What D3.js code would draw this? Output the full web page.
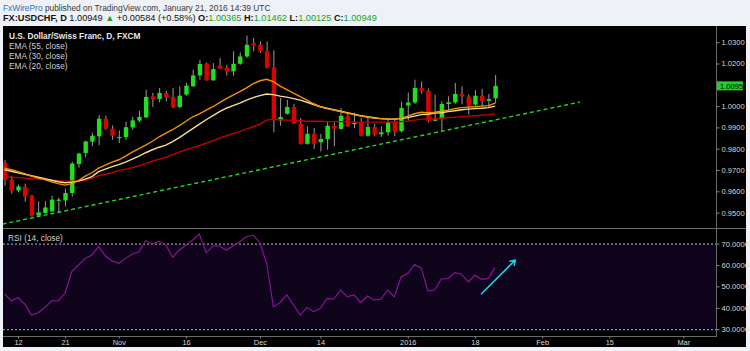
<!DOCTYPE html>
<html><head><meta charset="utf-8">
<script src="https://cdn.jsdelivr.net/npm/d3@7"></script>
<style>
body{margin:0;background:#eef1f5;}
svg{display:block;}
</style></head><body>
<script>
// bar index 0 = Oct 8 2015, last bar (73) = Jan 21 2016
const tickIdx = [2, 9, 17, 27, 38, 47, 60, 70, 80, 90, 101];
const tickLabels = ["12","21","Nov","16","Dec","14","2016","18","Feb","15","Mar"];

const opens = [0.9734,0.9654,0.9604,0.9621,0.9579,0.9486,0.9498,0.9506,0.9559,0.9557,
  0.9592,0.9728,0.9780,0.9833,0.9858,0.9941,0.9894,0.9852,0.9854,0.9900,
  0.9932,0.9947,1.0046,1.0033,1.0062,1.0043,0.9996,1.0054,1.0093,1.0144,
  1.0199,1.0121,1.0191,1.0179,1.0163,1.0199,1.0233,1.0296,1.0288,1.0259,
  1.0182,0.9933,0.9964,0.9996,0.9917,0.9823,0.9870,0.9830,0.9845,0.9908,
  0.9893,0.9955,0.9915,0.9925,0.9861,0.9902,0.9868,0.9877,0.9928,0.9882,
  1.0003,1.0017,1.0085,1.0072,0.9931,0.9940,1.0010,1.0017,1.0057,1.0044,
  1.0007,1.0049,1.0025,1.00365];
const highs = [0.9748,0.9673,0.9631,0.9636,0.9584,0.9553,0.9553,0.9579,0.9570,0.9612,
  0.9739,0.9781,0.9838,0.9875,0.9958,0.9955,0.9909,0.9886,0.9927,0.9950,
  0.9978,1.0077,1.0062,1.0085,1.0072,1.0085,1.0093,1.0109,1.0171,1.0218,
  1.0204,1.0202,1.0226,1.0194,1.0257,1.0252,1.0331,1.0320,1.0304,1.0304,
  1.0262,1.0038,1.0030,1.0011,0.9944,0.9905,0.9897,0.9870,0.9924,0.9924,
  0.9991,0.9969,0.9969,0.9944,0.9950,0.9917,0.9905,0.9944,0.9941,1.0021,
  1.0063,1.0124,1.0116,1.0083,1.0054,1.0023,1.0046,1.0109,1.0093,1.0054,
  1.0075,1.0081,1.0057,1.01462];
const lows = [0.9626,0.9589,0.9595,0.9551,0.9481,0.9480,0.9495,0.9503,0.9500,0.9529,
  0.9575,0.9711,0.9758,0.9811,0.9817,0.9889,0.9842,0.9827,0.9842,0.9889,
  0.9924,0.9944,0.9996,1.0017,1.0022,0.9991,0.9991,1.0049,1.0090,1.0124,
  1.0119,1.0119,1.0174,1.0143,1.0143,1.0194,1.0226,1.0257,1.0249,1.0177,
  0.9877,0.9908,0.9960,0.9916,0.9819,0.9819,0.9799,0.9787,0.9795,0.9811,
  0.9889,0.9902,0.9896,0.9858,0.9856,0.9858,0.9856,0.9861,0.9858,0.9877,
  0.9932,1.0010,1.0058,0.9923,0.9928,0.9881,0.9978,1.0011,1.0009,0.9960,
  1.0002,1.0000,0.9995,1.00125];
const closes = [0.9654,0.9603,0.9623,0.9575,0.9486,0.9501,0.9524,0.9561,0.9561,0.9592,
  0.9730,0.9777,0.9834,0.9861,0.9941,0.9894,0.9861,0.9855,0.9901,0.9933,
  0.9949,1.0043,1.0033,1.0062,1.0041,0.9996,1.0049,1.0096,1.0144,1.0198,
  1.0121,1.0174,1.0176,1.0163,1.0199,1.0233,1.0288,1.0285,1.0257,1.0179,
  0.9933,0.9949,0.9996,0.9917,0.9823,0.9870,0.9823,0.9846,0.9908,0.9894,
  0.9955,0.9905,0.9922,0.9861,0.9902,0.9866,0.9877,0.9924,0.9881,0.9991,
  1.0017,1.0085,1.0069,0.9930,0.9937,1.0010,1.0018,1.0057,1.0046,1.0003,
  1.0049,1.0024,1.0033,1.00949];

const ema20 = [0.9709,0.9701,0.9692,0.9683,0.9671,0.9662,0.9655,0.9645,0.9636,0.9629,
  0.9636,0.9650,0.9671,0.9687,0.9709,0.9723,0.9737,0.9748,0.9765,0.9784,
  0.9800,0.9817,0.9835,0.9856,0.9873,0.9889,0.9908,0.9929,0.9950,0.9964,
  0.9981,0.9997,1.0016,1.0035,1.0051,1.0068,1.0086,1.0105,1.0119,1.0126,
  1.0115,1.0094,1.0077,1.0061,1.0044,1.0028,1.0011,0.9997,0.9988,0.9981,
  0.9974,0.9967,0.9960,0.9953,0.9948,0.9943,0.9941,0.9939,0.9939,0.9943,
  0.9953,0.9964,0.9971,0.9969,0.9971,0.9976,0.9981,0.9988,0.9993,0.9995,
  0.9997,1.0000,1.0002,1.0014];
const ema30 = [0.9701,0.9694,0.9687,0.9680,0.9673,0.9666,0.9659,0.9652,0.9645,0.9640,
  0.9643,0.9648,0.9657,0.9669,0.9692,0.9704,0.9716,0.9725,0.9737,0.9751,
  0.9765,0.9781,0.9795,0.9807,0.9817,0.9833,0.9852,0.9873,0.9894,0.9915,
  0.9936,0.9955,0.9974,0.9990,1.0002,1.0014,1.0028,1.0040,1.0049,1.0057,
  1.0054,1.0047,1.0042,1.0035,1.0028,1.0018,1.0007,0.9997,0.9990,0.9983,
  0.9976,0.9969,0.9962,0.9955,0.9950,0.9946,0.9941,0.9939,0.9939,0.9941,
  0.9946,0.9953,0.9960,0.9962,0.9967,0.9969,0.9974,0.9978,0.9983,0.9986,
  0.9988,0.9990,0.9993,1.0000];
const ema55 = [0.9669,0.9666,0.9664,0.9662,0.9659,0.9657,0.9655,0.9652,0.9650,0.9648,
  0.9648,0.9650,0.9652,0.9662,0.9673,0.9680,0.9687,0.9697,0.9704,0.9711,
  0.9720,0.9730,0.9741,0.9751,0.9760,0.9772,0.9784,0.9795,0.9805,0.9814,
  0.9826,0.9838,0.9849,0.9861,0.9870,0.9880,0.9892,0.9903,0.9915,0.9934,
  0.9939,0.9936,0.9934,0.9932,0.9932,0.9929,0.9929,0.9929,0.9927,0.9927,
  0.9927,0.9927,0.9925,0.9925,0.9925,0.9925,0.9925,0.9925,0.9925,0.9927,
  0.9929,0.9934,0.9939,0.9939,0.9941,0.9943,0.9946,0.9948,0.9950,0.9953,
  0.9955,0.9957,0.9960,0.9964];

const rsi = [46.4,43.3,44.7,41.8,36.6,37.7,40.2,43.3,43.3,46.8,
  56.9,60.0,63.1,64.7,68.6,64.2,61.9,60.8,63.1,65.1,
  66.2,71.4,69.8,71.2,69.3,63.6,67.0,69.3,71.7,74.5,
  65.7,68.9,68.9,67.0,68.9,70.9,73.2,74.0,70.4,60.8,
  40.5,42.4,46.0,41.3,36.6,40.2,38.2,39.8,44.4,44.0,
  48.3,45.2,46.0,42.4,45.5,43.6,44.0,48.3,45.2,54.3,
  56.1,60.3,58.5,47.9,48.3,53.6,53.6,56.4,55.7,52.1,
  55.2,53.3,53.8,58.9];

const trendIdx = [-0.3, 85.6];
const trendPrice = [0.9446, 1.0019];
const arrowIdx = [70.9, 76.0];
const arrowRsi = [46.3, 62.3];
const priceTicks = [0.95,0.96,0.97,0.98,0.99,1.00,1.02,1.03];
const rsiTicks = [30,40,50,60,70];
const lastPrice = 1.0095;

function main(){
    const W = 750, H = 351;
    const left = 3, right = 716, axisRight = 746;
    const top = 26, split = 228, rsiBottom = 336, bottom = 347;
    const narrow = "'Liberation Sans Narrow','Arial Narrow','Liberation Sans',sans-serif";

    const svg = d3.select("body").append("svg")
        .attr("width", W)
        .attr("height", H);

    svg.append("rect").attr("width", W).attr("height", H).attr("fill", "#eef1f5");

    // header
    const h1 = svg.append("text")
        .attr("x", 3).attr("y", 10.5)
        .attr("font-family", "'Liberation Sans',sans-serif")
        .attr("font-size", "8.4px");
    h1.append("tspan").attr("fill", "#2b73c0").text("FxWirePro");
    h1.append("tspan").attr("fill", "#3a3a3a").text(" published on TradingView.com, January 21, 2016 14:39 UTC");

    const h2 = svg.append("text")
        .attr("x", 3).attr("y", 20.5)
        .attr("font-family", "'Liberation Sans',sans-serif")
        .attr("font-size", "9.2px")
        .attr("fill", "#111");
    h2.append("tspan").attr("font-weight", "bold").text("FX:USDCHF, D ");
    h2.append("tspan").text("1.00949 ");
    h2.append("tspan").attr("fill", "#20a020").text("▲");
    h2.append("tspan").text(" +0.00584 (+0.58%) ");
    [["O:", "1.00365"], ["H:", "1.01462"], ["L:", "1.00125"], ["C:", "1.00949"]].forEach(function(p){
        h2.append("tspan").attr("font-weight", "bold").text(p[0]);
        h2.append("tspan").attr("fill", "#20a020").text(p[1] + " ");
    });

    // chart background
    svg.append("rect")
        .attr("x", left).attr("y", top)
        .attr("width", axisRight - left).attr("height", bottom - top)
        .attr("fill", "#000");

    const x = d3.scaleLinear().domain([0, 100]).range([4.56, 676.56]);
    const y = d3.scaleLinear().domain([0.95, 1.03]).range([212.6, 42.2]);
    const yr = d3.scaleLinear().domain([30, 70]).range([329.2, 243.6]);

    const defs = svg.append("defs");
    defs.append("clipPath").attr("id", "clipMain").append("rect")
        .attr("x", left).attr("y", top).attr("width", right - left).attr("height", split - top);
    defs.append("clipPath").attr("id", "clipRsi").append("rect")
        .attr("x", left).attr("y", split).attr("width", right - left).attr("height", rsiBottom - split);

    const main_g = svg.append("g").attr("clip-path", "url(#clipMain)");

    const bars = d3.range(opens.length).map(function(i){
        return {i: i, o: opens[i], h: highs[i], l: lows[i], c: closes[i]};
    });

    // trend line
    main_g.append("line")
        .attr("x1", x(trendIdx[0])).attr("y1", y(trendPrice[0]))
        .attr("x2", x(trendIdx[1])).attr("y2", y(trendPrice[1]))
        .attr("stroke", "#22d822").attr("stroke-width", 1.4)
        .attr("stroke-dasharray", "4,3");

    // wicks
    main_g.selectAll(".wick")
        .data(bars)
        .join("line")
            .attr("class", "wick")
            .attr("x1", d => x(d.i) + 0.5).attr("x2", d => x(d.i) + 0.5)
            .attr("y1", d => y(d.h)).attr("y2", d => y(d.l))
            .attr("stroke", "#9a9a9a").attr("stroke-width", 1);

    // bodies
    const bw = 4.4;
    main_g.selectAll(".body")
        .data(bars)
        .join("rect")
            .attr("class", "body")
            .attr("x", d => x(d.i) + 0.5 - bw / 2)
            .attr("y", d => y(Math.max(d.o, d.c)))
            .attr("width", bw)
            .attr("height", d => Math.max(1.2, Math.abs(y(d.o) - y(d.c))))
            .attr("fill", d => d.c >= d.o ? "#1fe01f" : "#dd0000");

    // EMAs
    const emaLine = function(arr){
        return d3.line().x((d, i) => x(i)).y(d => y(d))(arr);
    };
    [[ema55, "#c00000"], [ema30, "#f8dc90"], [ema20, "#f39200"]].forEach(function(s){
        main_g.append("path")
            .attr("d", emaLine(s[0]))
            .attr("fill", "none")
            .attr("stroke", s[1])
            .attr("stroke-width", 1.4);
    });

    // legend
    svg.append("text")
        .attr("x", 9).attr("y", 38.5)
        .attr("font-family", "'Liberation Sans',sans-serif")
        .attr("font-size", "8.3px").attr("font-weight", "bold")
        .attr("fill", "#e8e8e8")
        .text("U.S. Dollar/Swiss Franc, D, FXCM");
    ["EMA (55, close)", "EMA (30, close)", "EMA (20, close)"].forEach(function(t, k){
        svg.append("text")
            .attr("x", 9).attr("y", 48.5 + k * 10)
            .attr("font-family", "'Liberation Sans',sans-serif")
            .attr("font-size", "8.3px")
            .attr("fill", "#cfcfcf")
            .text(t);
    });

    // RSI pane
    const rsi_g = svg.append("g").attr("clip-path", "url(#clipRsi)");
    rsi_g.append("rect")
        .attr("x", left).attr("y", yr(70))
        .attr("width", right - left).attr("height", yr(30) - yr(70))
        .attr("fill", "#10041c");
    [70, 30].forEach(function(v){
        rsi_g.append("line")
            .attr("x1", left).attr("x2", right)
            .attr("y1", yr(v) + 0.5).attr("y2", yr(v) + 0.5)
            .attr("stroke", "#b8b8b8").attr("stroke-dasharray", "2,2");
    });
    rsi_g.append("path")
        .attr("d", d3.line().x((d, i) => x(i)).y(d => yr(d))(rsi))
        .attr("fill", "none").attr("stroke", "#8e1599").attr("stroke-width", 1.1);

    // arrow
    const ax1 = x(arrowIdx[0]), ay1 = yr(arrowRsi[0]);
    const ax2 = x(arrowIdx[1]), ay2 = yr(arrowRsi[1]);
    const ang = Math.atan2(ay2 - ay1, ax2 - ax1);
    const hl = 6;
    rsi_g.append("path")
        .attr("d", "M" + ax1 + "," + ay1 + "L" + ax2 + "," + ay2 +
            "M" + (ax2 - hl * Math.cos(ang - 0.6)) + "," + (ay2 - hl * Math.sin(ang - 0.6)) +
            "L" + ax2 + "," + ay2 +
            "L" + (ax2 - hl * Math.cos(ang + 0.6)) + "," + (ay2 - hl * Math.sin(ang + 0.6)))
        .attr("fill", "none").attr("stroke", "#18d8f0").attr("stroke-width", 1.5);

    svg.append("text")
        .attr("x", 8).attr("y", 241)
        .attr("font-family", "'Liberation Sans',sans-serif")
        .attr("font-size", "8.3px")
        .attr("fill", "#cfcfcf")
        .text("RSI (14, close)");

    // frame lines
    svg.append("line").attr("x1", left).attr("x2", axisRight).attr("y1", split + 0.5).attr("y2", split + 0.5)
        .attr("stroke", "#6a6a6a");
    svg.append("line").attr("x1", left).attr("x2", right).attr("y1", rsiBottom + 0.5).attr("y2", rsiBottom + 0.5)
        .attr("stroke", "#6a6a6a");
    svg.append("line").attr("x1", right + 0.5).attr("x2", right + 0.5).attr("y1", top).attr("y2", rsiBottom + 1)
        .attr("stroke", "#6a6a6a");

    // price axis
    const pa = svg.append("g")
        .attr("transform", "translate(" + (right + 0.5) + ",0)")
        .call(d3.axisRight(y).tickValues(priceTicks).tickFormat(d3.format(".4f")).tickSize(3).tickPadding(2));
    pa.select(".domain").remove();
    pa.selectAll("line").attr("stroke", "#888");
    pa.selectAll("text").attr("fill", "#d8d8d8").attr("font-family", narrow).attr("font-size", "7.6px");

    // last price label
    svg.append("rect")
        .attr("x", right + 1).attr("y", y(lastPrice) - 4.5)
        .attr("width", 26).attr("height", 9)
        .attr("fill", "#1fd01f");
    svg.append("text")
        .attr("x", right + 4).attr("y", y(lastPrice) + 2.7)
        .attr("font-family", narrow).attr("font-size", "7.6px")
        .attr("fill", "#000")
        .text(d3.format(".4f")(lastPrice));

    // rsi axis
    const ra = svg.append("g")
        .attr("transform", "translate(" + (right + 0.5) + ",0)")
        .call(d3.axisRight(yr).tickValues(rsiTicks).tickFormat(d3.format(".4f")).tickSize(3).tickPadding(2));
    ra.select(".domain").remove();
    ra.selectAll("line").attr("stroke", "#888");
    ra.selectAll("text").attr("fill", "#d8d8d8").attr("font-family", narrow).attr("font-size", "7.6px");

    // time axis
    const ta = svg.append("g")
        .attr("transform", "translate(0," + (rsiBottom + 0.5) + ")")
        .call(d3.axisBottom(x).tickValues(tickIdx).tickFormat((d, i) => tickLabels[i]).tickSize(2).tickPadding(1.5));
    ta.select(".domain").remove();
    ta.selectAll("line").attr("stroke", "#888");
    ta.selectAll("text").attr("fill", "#d8d8d8").attr("font-family", narrow).attr("font-size", "7.4px");
}
main();
</script>
</body></html>
